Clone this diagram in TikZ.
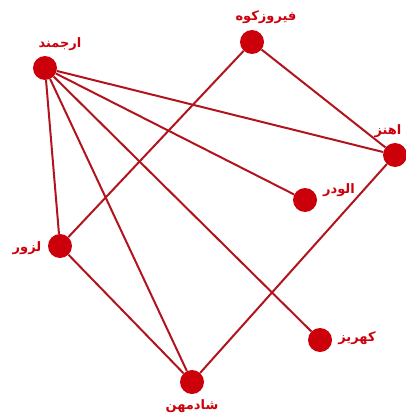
\documentclass[tikz,border=0pt]{standalone}
\usepackage{fontspec}
\TeXXeTstate=1
\newfontfamily\arabicfont[Script=Arabic]{DejaVu Sans}
\definecolor{nodered}{RGB}{204,0,10}
\definecolor{edgered}{RGB}{178,20,30}
\begin{document}
\begin{tikzpicture}[x=1pt,y=-1pt,
  vtx/.style={circle,fill=nodered,minimum size=24pt,inner sep=0pt},
  lbl/.style={text=nodered,font=\arabicfont\bfseries\fontsize{13}{15}\selectfont,inner sep=1pt},
  edge/.style={draw=edgered,line width=2pt}]
\useasboundingbox (0,0) rectangle (406,417);
\node[vtx] (arj) at (45,68) {};
\node[vtx] (fir) at (252,42) {};
\node[vtx] (ahz) at (395,155) {};
\node[vtx] (alv) at (305,200) {};
\node[vtx] (laz) at (60,246) {};
\node[vtx] (kah) at (320,340) {};
\node[vtx] (sha) at (192,382) {};
\draw[edge] (arj) -- (ahz);
\draw[edge] (arj) -- (alv);
\draw[edge] (arj) -- (laz);
\draw[edge] (arj) -- (sha);
\draw[edge] (arj) -- (kah);
\draw[edge] (fir) -- (laz);
\draw[edge] (fir) -- (ahz);
\draw[edge] (ahz) -- (sha);
\draw[edge] (laz) -- (sha);
\node[lbl] (larj) at (60,44) {\beginR ارجمند\endR};
\node[lbl] (lfir) at (266,17) {\beginR فیروزکوه\endR};
\node[lbl] (lahz) at (388,131) {\beginR اهنز\endR};
\node[lbl] (lalv) at (339,190) {\beginR الودر\endR};
\node[lbl] (llaz) at (27,248) {\beginR لزور\endR};
\node[lbl] (lkah) at (357,338) {\beginR کهریز\endR};
\node[lbl] (lsha) at (192,406) {\beginR شادمهن\endR};
\end{tikzpicture}
\end{document}
